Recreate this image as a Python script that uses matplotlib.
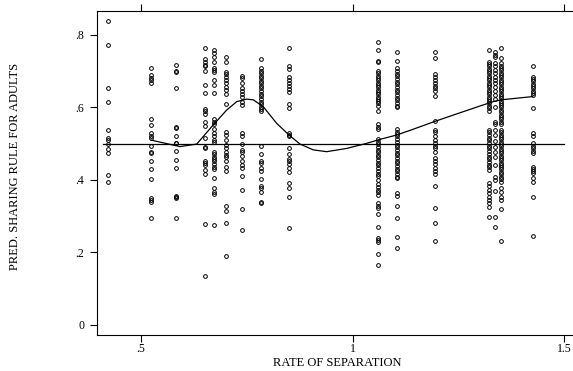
import matplotlib.pyplot as plt
import numpy as np

plt.rcParams['font.family'] = ['Liberation Serif', 'DejaVu Serif']

# x position of each column of points (rate of separation)
col_x = [0.4227, 0.5244, 0.5816, 0.6501, 0.6714, 0.7017, 0.7395, 0.7825,
         0.8506, 1.0591, 1.1040, 1.1934, 1.3227, 1.3369, 1.3511, 1.4260]

# predicted sharing rule values, one list per column
col_y = [
    [0.839, 0.772, 0.653, 0.616, 0.538, 0.515, 0.510, 0.500, 0.485, 0.474, 0.414, 0.395],
    [0.710, 0.690, 0.682, 0.675, 0.668, 0.568, 0.552, 0.529, 0.522, 0.515, 0.494, 0.478,
     0.474, 0.451, 0.430, 0.402, 0.349, 0.345, 0.340, 0.294],
    [0.717, 0.701, 0.699, 0.653, 0.547, 0.543, 0.522, 0.503, 0.501, 0.480, 0.455, 0.432,
     0.357, 0.352, 0.349, 0.296],
    [0.765, 0.733, 0.726, 0.717, 0.713, 0.701, 0.662, 0.639, 0.596, 0.589, 0.581, 0.559,
     0.549, 0.517, 0.491, 0.487, 0.452, 0.446, 0.440, 0.428, 0.416, 0.279, 0.135],
    [0.759, 0.751, 0.740, 0.725, 0.708, 0.703, 0.699, 0.676, 0.662, 0.639, 0.568, 0.561,
     0.554, 0.541, 0.529, 0.520, 0.510, 0.504, 0.478, 0.471, 0.464, 0.458, 0.451, 0.443,
     0.437, 0.430, 0.405, 0.377, 0.368, 0.360, 0.276],
    [0.740, 0.725, 0.699, 0.691, 0.685, 0.676, 0.667, 0.657, 0.648, 0.637, 0.609, 0.531,
     0.524, 0.510, 0.497, 0.487, 0.478, 0.469, 0.462, 0.451, 0.437, 0.425, 0.329, 0.314,
     0.280, 0.189],
    [0.687, 0.680, 0.667, 0.655, 0.644, 0.636, 0.630, 0.614, 0.607, 0.529, 0.522, 0.498,
     0.483, 0.476, 0.467, 0.452, 0.441, 0.434, 0.411, 0.372, 0.319, 0.262],
    [0.734, 0.708, 0.701, 0.694, 0.688, 0.680, 0.673, 0.667, 0.660, 0.653, 0.646, 0.638,
     0.631, 0.623, 0.616, 0.609, 0.601, 0.595, 0.589, 0.495, 0.471, 0.452, 0.446, 0.432,
     0.425, 0.403, 0.384, 0.377, 0.368, 0.340, 0.336],
    [0.763, 0.715, 0.706, 0.685, 0.676, 0.667, 0.659, 0.651, 0.642, 0.609, 0.598, 0.529,
     0.524, 0.520, 0.487, 0.471, 0.458, 0.451, 0.443, 0.432, 0.423, 0.391, 0.377, 0.354,
     0.267],
    [0.780, 0.758, 0.728, 0.725, 0.701, 0.694, 0.688, 0.681, 0.675, 0.668, 0.662, 0.656,
     0.649, 0.643, 0.636, 0.630, 0.623, 0.617, 0.611, 0.604, 0.589, 0.554, 0.547, 0.541,
     0.513, 0.506, 0.498, 0.491, 0.484, 0.476, 0.469, 0.462, 0.454, 0.447, 0.440, 0.432,
     0.425, 0.417, 0.410, 0.399, 0.388, 0.381, 0.373, 0.366, 0.359, 0.336, 0.329, 0.322,
     0.307, 0.270, 0.241, 0.234, 0.228, 0.195, 0.166],
    [0.754, 0.728, 0.708, 0.701, 0.693, 0.686, 0.679, 0.671, 0.664, 0.657, 0.649, 0.642,
     0.634, 0.627, 0.620, 0.613, 0.605, 0.600, 0.541, 0.533, 0.526, 0.520, 0.512, 0.505,
     0.497, 0.490, 0.483, 0.475, 0.468, 0.461, 0.453, 0.446, 0.439, 0.431, 0.424, 0.417,
     0.409, 0.405, 0.363, 0.357, 0.329, 0.296, 0.244, 0.211],
    [0.752, 0.736, 0.691, 0.685, 0.676, 0.667, 0.660, 0.653, 0.646, 0.632, 0.563, 0.538,
     0.531, 0.522, 0.510, 0.503, 0.495, 0.487, 0.478, 0.460, 0.452, 0.443, 0.434, 0.425,
     0.416, 0.382, 0.324, 0.280, 0.232],
    [0.759, 0.726, 0.720, 0.714, 0.707, 0.701, 0.694, 0.688, 0.681, 0.675, 0.668, 0.662,
     0.656, 0.649, 0.643, 0.636, 0.630, 0.623, 0.617, 0.611, 0.604, 0.598, 0.589, 0.538,
     0.531, 0.523, 0.516, 0.509, 0.501, 0.494, 0.487, 0.479, 0.472, 0.464, 0.457, 0.450,
     0.442, 0.435, 0.428, 0.391, 0.382, 0.372, 0.363, 0.354, 0.345, 0.336, 0.326, 0.297],
    [0.752, 0.746, 0.740, 0.722, 0.713, 0.703, 0.694, 0.685, 0.676, 0.667, 0.657, 0.646,
     0.634, 0.623, 0.600, 0.561, 0.554, 0.538, 0.524, 0.508, 0.492, 0.478, 0.462, 0.441,
     0.409, 0.400, 0.370, 0.297, 0.269],
    [0.765, 0.736, 0.722, 0.715, 0.709, 0.703, 0.696, 0.690, 0.683, 0.677, 0.670, 0.664,
     0.657, 0.651, 0.645, 0.638, 0.632, 0.625, 0.619, 0.613, 0.606, 0.600, 0.593, 0.587,
     0.580, 0.574, 0.567, 0.561, 0.554, 0.538, 0.531, 0.525, 0.519, 0.512, 0.506, 0.499,
     0.493, 0.486, 0.480, 0.474, 0.467, 0.461, 0.454, 0.448, 0.441, 0.435, 0.429, 0.422,
     0.416, 0.409, 0.403, 0.395, 0.377, 0.368, 0.354, 0.345, 0.319, 0.233],
    [0.713, 0.685, 0.679, 0.672, 0.666, 0.659, 0.653, 0.646, 0.640, 0.633, 0.598, 0.529,
     0.522, 0.501, 0.495, 0.487, 0.480, 0.474, 0.437, 0.430, 0.425, 0.418, 0.405, 0.395,
     0.354, 0.246],
]

# smoothed fit
fit_x = [0.5236, 0.5921, 0.6316, 0.6708, 0.7025, 0.7261, 0.7497, 0.7653, 0.7889,
         0.8206, 0.8496, 0.8756, 0.9070, 0.9387, 0.9860, 1.0332, 1.0646, 1.1041,
         1.1433, 1.1929, 1.2378, 1.3009, 1.3323, 1.3505, 1.4254]
fit_y = [0.510, 0.492, 0.499, 0.552, 0.593, 0.616, 0.623, 0.621, 0.602,
         0.556, 0.524, 0.499, 0.483, 0.478, 0.487, 0.501, 0.512, 0.524,
         0.540, 0.561, 0.579, 0.604, 0.616, 0.621, 0.630]

ref_line = 0.5

fig = plt.figure(figsize=(5.73, 3.71), dpi=100)
ax = fig.add_axes([97 / 573, 36 / 371, 476 / 573, 324 / 371])

for x, ys in zip(col_x, col_y):
    ax.plot([x] * len(ys), ys, linestyle='none', marker='o', markersize=2.7,
            markerfacecolor='none', markeredgecolor='black', markeredgewidth=0.7)

ax.plot([0.41, 1.5], [ref_line, ref_line], color='black', linewidth=0.9)
ax.plot(fit_x, fit_y, color='black', linewidth=0.9)

ax.set_xlim(0.396, 1.5206)
ax.set_ylim(-0.0276, 0.866)
ax.set_xticks([0.5, 1, 1.5])
ax.set_xticklabels(['.5', '1', '1.5'])
ax.set_yticks([0, 0.2, 0.4, 0.6, 0.8])
ax.set_yticklabels(['0', '.2', '.4', '.6', '.8'])
ax.tick_params(axis='both', direction='out', length=5, width=0.8, labelsize=8.5, pad=4)
ax.tick_params(axis='x', top=True, labeltop=False, pad=0.5)
ax.spines['right'].set_visible(False)
for s in ['left', 'top', 'bottom']:
    ax.spines[s].set_linewidth(0.8)

ax.set_xlabel('RATE OF SEPARATION', fontsize=9)
ax.set_ylabel('PRED. SHARING RULE FOR ADULTS', fontsize=9)
ax.xaxis.set_label_coords(0.504, -0.068)
ax.yaxis.set_label_coords(-0.16, 0.52)

fig.savefig('out.png', dpi=100)
